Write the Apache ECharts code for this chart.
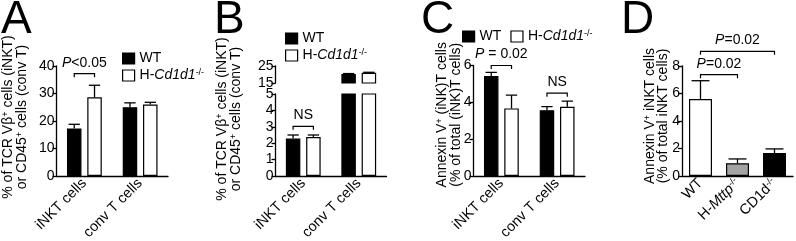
<!DOCTYPE html>
<html><head><meta charset="utf-8">
<script src="https://cdn.jsdelivr.net/npm/echarts@6/dist/echarts.min.js"></script>
<style>html,body{margin:0;padding:0;background:#fff}#c{width:796px;height:241px}</style>
</head><body><div id="c"></div>
<script>
const FONT = "'Liberation Sans', Arial, Helvetica, sans-serif";

// ---- Panel A ----
const catsA = ['iNKT cells', 'conv T cells'];
const wtA = [17.3, 25.0];
const wtAErr = [1.5, 1.6];
const koA = [28.6, 26.0];
const koAErr = [4.4, 0.8];
const ticksA = [0, 10, 20, 30, 40];
const sigA = [[0, 0, 0, 1, 37.2]];
const sigAText = ['{i|P}<0.05'];

// ---- Panel B (broken axis) ----
const catsB = ['iNKT cells', 'conv T cells'];
const wtB = [2.28, 20.3];
const wtBErr = [0.22, 0.25];
const koB = [2.38, 21.0];
const koBErr = [0.12, 0.3];
const ticksBLow = [0, 1, 2, 3, 4, 5];
const ticksBHigh = [15, 25];
const sigB = [[0, 0, 0, 1, 3.03]];
const sigBText = ['NS'];

// ---- Panel C ----
const catsC = ['iNKT cells', 'conv T cells'];
const wtC = [5.43, 3.57];
const wtCErr = [0.2, 0.2];
const koC = [3.67, 3.76];
const koCErr = [0.72, 0.31];
const ticksC = [0, 2, 4, 6];
const sigC = [[0, 0, 0, 1, 6.0], [1, 0, 1, 1, 4.5]];
const sigCText = ['{i|P} = 0.02', 'NS'];

// ---- Panel D ----
const catsD = ['WT', 'H-Mttp', 'CD1d'];
const valD = [5.6, 0.93, 1.67];
const errD = [1.33, 0.31, 0.3];
const colD = ['#ffffff', '#a3a3a3', '#000000'];
const ticksD = [0, 2, 4, 6, 8];
const sigD = [[0, 0, 1, 0, 7.37], [0, 0, 2, 0, 9.07]];
const sigDText = ['{i|P}=0.02', '{i|P}=0.02'];

const legendNames = ['WT', 'H-Cd1d1'];

const FS = 14;
const rich = {
  i: {fontStyle: 'italic', fontSize: FS, fontFamily: FONT, color: '#000'},
  s: {fontSize: 9, fontFamily: FONT, color: '#000', verticalAlign: 'top', lineHeight: 9}
};
const BW = 14.5, GAP = 0.4, BWD = 23;

function axisRange(t) { return {min: t[0], max: t[t.length - 1], interval: t[1] - t[0]}; }

function errRender(slot, n, bw, gap) {
  return function (params, api) {
    const cat = api.value(0), v = api.value(1), e = api.value(2);
    const off = (slot - (n - 1) / 2) * bw * (1 + gap);
    const p0 = api.coord([cat, v]), p1 = api.coord([cat, v + e]);
    const x = p0[0] + off, hw = bw * 0.78 / 2;
    const st = {stroke: '#000', lineWidth: 1.3};
    return {type: 'group', children: [
      {type: 'line', shape: {x1: x, y1: p0[1], x2: x, y2: p1[1]}, style: st},
      {type: 'line', shape: {x1: x - hw, y1: p1[1], x2: x + hw, y2: p1[1]}, style: st}
    ]};
  };
}
function sigRender(n, bw, gap, texts) {
  return function (params, api) {
    const c1 = api.value(0), s1 = api.value(1), c2 = api.value(2), s2 = api.value(3), y = api.value(4);
    const step = bw * (1 + gap);
    const pa = api.coord([c1, y]), pb = api.coord([c2, y]);
    const xa = pa[0] + (s1 - (n - 1) / 2) * step;
    const xb = pb[0] + (s2 - (n - 1) / 2) * step;
    const py = pa[1];
    return {type: 'group', children: [
      {type: 'polyline', shape: {points: [[xa, py + 3.5], [xa, py], [xb, py], [xb, py + 3.5]]},
        style: {stroke: '#000', fill: null, lineWidth: 1.2}},
      {type: 'text', x: (xa + xb) / 2, y: py - 11,
        style: {text: texts[params.dataIndex], fontSize: FS, fontFamily: FONT, fill: '#000',
          align: 'center', verticalAlign: 'middle', rich: rich}}
    ]};
  };
}

const grids = [
  {left: 56.5, width: 111.5, top: 66, height: 110},   // A
  {left: 275.5, width: 111, top: 94, height: 82},     // B low
  {left: 275.5, width: 111, top: 66, height: 17},     // B high
  {left: 473.5, width: 111.5, top: 65.5, height: 110.5}, // C
  {left: 682, width: 111, top: 66, height: 110}       // D
].map(g => Object.assign({containLabel: false, outerBoundsMode: 'none'}, g));

const axLine = {show: true, lineStyle: {color: '#000', width: 1.3}};
function xAx(gi, cats, show, fmt) {
  return {type: 'category', gridIndex: gi, data: cats, show: show,
    axisLine: axLine, axisTick: {show: false},
    axisLabel: {rotate: 45, interval: 0, margin: 5, fontSize: 14.5, fontFamily: FONT, color: '#000',
      formatter: fmt, rich: {
        i: {fontStyle: 'italic', fontSize: 14.5, fontFamily: FONT, color: '#000'},
        s: {fontSize: 9, fontFamily: FONT, color: '#000', verticalAlign: 'top', lineHeight: 9}
      }}};
}
function yAx(gi, ticks, name, gap, shift) {
  return Object.assign({type: 'value', gridIndex: gi,
    axisLine: axLine, axisTick: {show: true, inside: false, length: 4, lineStyle: {color: '#000', width: 1.3}},
    axisLabel: {margin: 2, fontSize: FS, fontFamily: FONT, color: '#000'},
    splitLine: {show: false},
    name: name || '', nameLocation: 'middle', nameRotate: 90, nameGap: gap || 0,
    nameMoveOverlap: false,
    nameTextStyle: {fontSize: FS, fontFamily: FONT, color: '#000', lineHeight: 13.5,
      padding: [0, 0, 0, shift || 0], rich: {
        s: {fontSize: 9, fontFamily: FONT, color: '#000', verticalAlign: 'top', lineHeight: 9}
      }}
  }, axisRange(ticks));
}

const nameAB = '% of TCR Vβ{s|+} cells (iNKT)\nor CD45{s|+} cells (conv T)';
const nameC = 'Annexin V{s|+} (iNK)T cells\n(% of total (iNK)T cells)';
const nameD = 'Annexin V{s|+} iNKT cells\n(% of total iNKT cells)';

const fmtD = v => v === 'WT' ? 'WT' : (v === 'H-Mttp' ? 'H-{i|Mttp}{s|-/-}' : 'CD1d{s|-/-}');

const xAxis = [
  xAx(0, catsA, true),
  xAx(1, catsB, true),
  xAx(2, catsB, false),
  xAx(3, catsC, true),
  xAx(4, catsD, true, fmtD)
];
const yAxis = [
  yAx(0, ticksA, nameAB, 28, 8),
  yAx(1, ticksBLow, nameAB, 33, 32),
  yAx(2, ticksBHigh),
  yAx(3, ticksC, nameC, 11, 12),
  yAx(4, ticksD, nameD, 12, 10)
];

const blackStyle = {color: '#000', borderColor: '#000', borderWidth: 1.2};
const whiteStyle = {color: '#fff', borderColor: '#000', borderWidth: 1.2};

const series = [];
function addPair(ai, wt, wtE, ko, koE) {
  series.push({type: 'bar', name: 'WT', xAxisIndex: ai, yAxisIndex: ai, data: wt,
    barWidth: BW, barGap: '40%', itemStyle: blackStyle, z: 2});
  series.push({type: 'bar', name: 'H-Cd1d1', xAxisIndex: ai, yAxisIndex: ai, data: ko,
    barWidth: BW, barGap: '40%', itemStyle: whiteStyle, z: 2});
  series.push({type: 'custom', name: 'errWT' + ai, xAxisIndex: ai, yAxisIndex: ai, clip: true, z: 3,
    renderItem: errRender(0, 2, BW, GAP), encode: {x: 0, y: 1},
    data: wt.map((v, i) => [i, v, wtE[i]])});
  series.push({type: 'custom', name: 'errKO' + ai, xAxisIndex: ai, yAxisIndex: ai, clip: true, z: 3,
    renderItem: errRender(1, 2, BW, GAP), encode: {x: 0, y: 1},
    data: ko.map((v, i) => [i, v, koE[i]])});
}
addPair(0, wtA, wtAErr, koA, koAErr);
addPair(1, wtB, wtBErr, koB, koBErr);
addPair(2, wtB, wtBErr, koB, koBErr);
addPair(3, wtC, wtCErr, koC, koCErr);

series.push({type: 'bar', name: 'panelD', xAxisIndex: 4, yAxisIndex: 4, barWidth: BWD, z: 2,
  data: valD.map((v, i) => ({value: v, itemStyle: {color: colD[i], borderColor: '#000', borderWidth: 1.2}}))});
series.push({type: 'custom', name: 'errD', xAxisIndex: 4, yAxisIndex: 4, clip: true, z: 3,
  renderItem: errRender(0, 1, BWD, 0), encode: {x: 0, y: 1},
  data: valD.map((v, i) => [i, v, errD[i]])});

function addSig(ai, data, texts, n, bw) {
  series.push({type: 'custom', name: 'sig' + ai, xAxisIndex: ai, yAxisIndex: ai, clip: false, z: 4,
    renderItem: sigRender(n, bw, GAP, texts), encode: {x: 0, y: 4}, data: data});
}
addSig(0, sigA, sigAText, 2, BW);
addSig(1, sigB, sigBText, 2, BW);
addSig(3, sigC, sigCText, 2, BW);
addSig(4, sigD, sigDText, 1, BWD);

const legendBase = {
  data: legendNames, selectedMode: false, icon: 'rect', itemWidth: 12, itemHeight: 11,
  itemStyle: {borderColor: '#000', borderWidth: 1.2}, padding: 0,
  textStyle: {fontSize: FS, fontFamily: FONT, color: '#000', lineHeight: 15, rich: rich},
  formatter: n => n === 'WT' ? 'WT' : 'H-{i|Cd1d1}{s|-/-}'
};
const legend = [
  Object.assign({}, legendBase, {orient: 'vertical', left: 122, top: 51, itemGap: 2}),
  Object.assign({}, legendBase, {orient: 'vertical', left: 285, top: 31, itemGap: 2}),
  Object.assign({}, legendBase, {orient: 'horizontal', left: 462, top: 29, itemGap: 9})
];

const letterStyle = {fontSize: 46, fontWeight: 'normal', fontFamily: FONT, color: '#000'};
const title = [
  {text: 'A', left: 1, top: -3},
  {text: 'B', left: 214, top: -3},
  {text: 'C', left: 421, top: -3},
  {text: 'D', left: 621, top: -3}
].map(t => Object.assign({padding: 0, textStyle: letterStyle}, t));

const chart = echarts.init(document.getElementById('c'));
chart.setOption({
  animation: false,
  backgroundColor: '#fff',
  title: title,
  legend: legend,
  grid: grids,
  xAxis: xAxis,
  yAxis: yAxis,
  series: series
});
</script></body></html>
